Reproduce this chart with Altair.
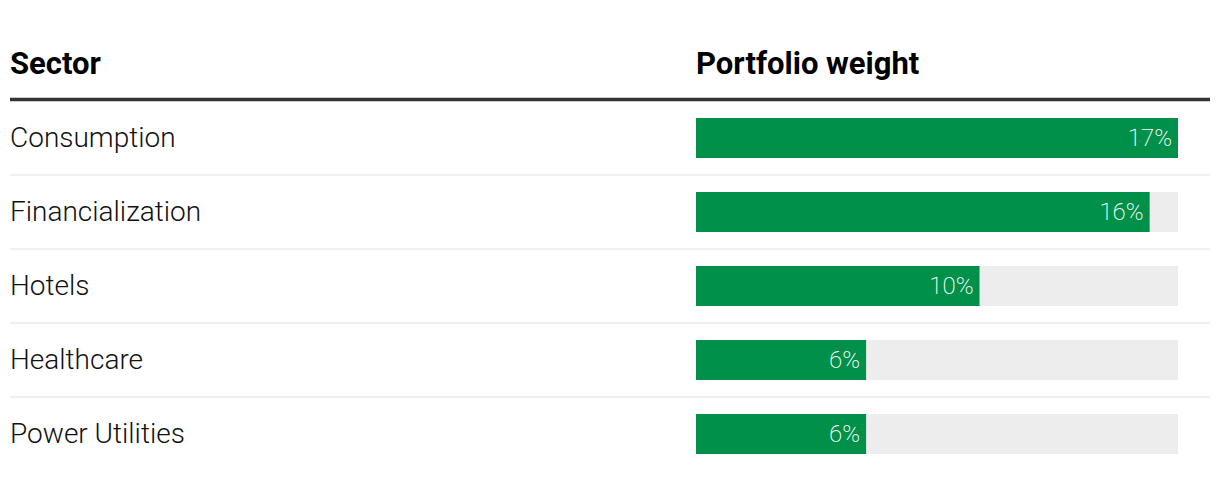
import altair as alt
import pandas as pd

sectors = ["Consumption", "Financialization", "Hotels", "Healthcare", "Power Utilities"]
weights = [17, 16, 10, 6, 6]
max_weight = 17
headers = ["Sector", "Portfolio weight"]

df = pd.DataFrame({"sector": sectors, "weight": weights})
df["track"] = max_weight
df["label"] = [f"{w}%" for w in weights]

FONT = "Roboto"
yscale = alt.Scale(domain=sectors, paddingInner=0, paddingOuter=0)
xscale = alt.Scale(domain=[0, max_weight], range=[686, 1168])

base = alt.Chart(df)

Y = alt.Y("sector:N", scale=yscale, axis=None)

track = base.mark_bar(height=40, color="#ededed").encode(
    y=Y,
    x=alt.X("track:Q", scale=xscale, axis=None),
    x2=alt.datum(0),
)
bars = base.mark_bar(height=40, color="#00904a").encode(
    y=Y,
    x=alt.X("weight:Q", scale=xscale, axis=None),
    x2=alt.datum(0),
)
values = base.mark_text(
    align="right", baseline="middle", dx=-6, dy=1, font=FONT, fontSize=24,
    fontWeight=200, color="white"
).encode(
    y=Y,
    x=alt.X("weight:Q", scale=xscale, axis=None),
    text="label:N",
)
names = base.mark_text(
    align="left", baseline="middle", dy=1, font=FONT, fontSize=28,
    fontWeight=300, color="#111111"
).encode(
    y=Y,
    x=alt.value(0),
    text="sector:N",
)
seps = base.transform_filter(
    alt.datum.sector != sectors[-1]
).mark_rule(color="#ebebeb", strokeWidth=1.5).encode(
    y=alt.Y("sector:N", scale=yscale, axis=None, bandPosition=1),
    x=alt.value(0),
    x2=alt.value(1200),
)

head_sector = alt.Chart(pd.DataFrame({"h": [headers[0]]})).mark_text(
    align="left", baseline="alphabetic", font=FONT, fontSize=31,
    fontWeight="bold", color="#000000"
).encode(x=alt.value(0), y=alt.value(-27), text="h:N")
head_weight = alt.Chart(pd.DataFrame({"h": [headers[1]], "pos": [0]})).mark_text(
    align="left", baseline="alphabetic", font=FONT, fontSize=31,
    fontWeight="bold", color="#000000"
).encode(x=alt.X("pos:Q", scale=xscale, axis=None), y=alt.value(-27), text="h:N")
head_rule = alt.Chart(pd.DataFrame({"h": [headers[0]]})).mark_rule(
    color="#333333", strokeWidth=3.5
).encode(x=alt.value(0), x2=alt.value(1200), y=alt.value(-1.5))

chart = alt.layer(
    seps, track, bars, values, names, head_sector, head_weight, head_rule
).properties(
    width=1200, height=370,
    autosize=alt.AutoSizeParams(type="none"),
    padding={"left": 10, "top": 101, "right": 10, "bottom": 9},
    background="white",
).configure_view(stroke=None)

chart.save("out.html", embed_options={"renderer": "svg", "actions": False})
